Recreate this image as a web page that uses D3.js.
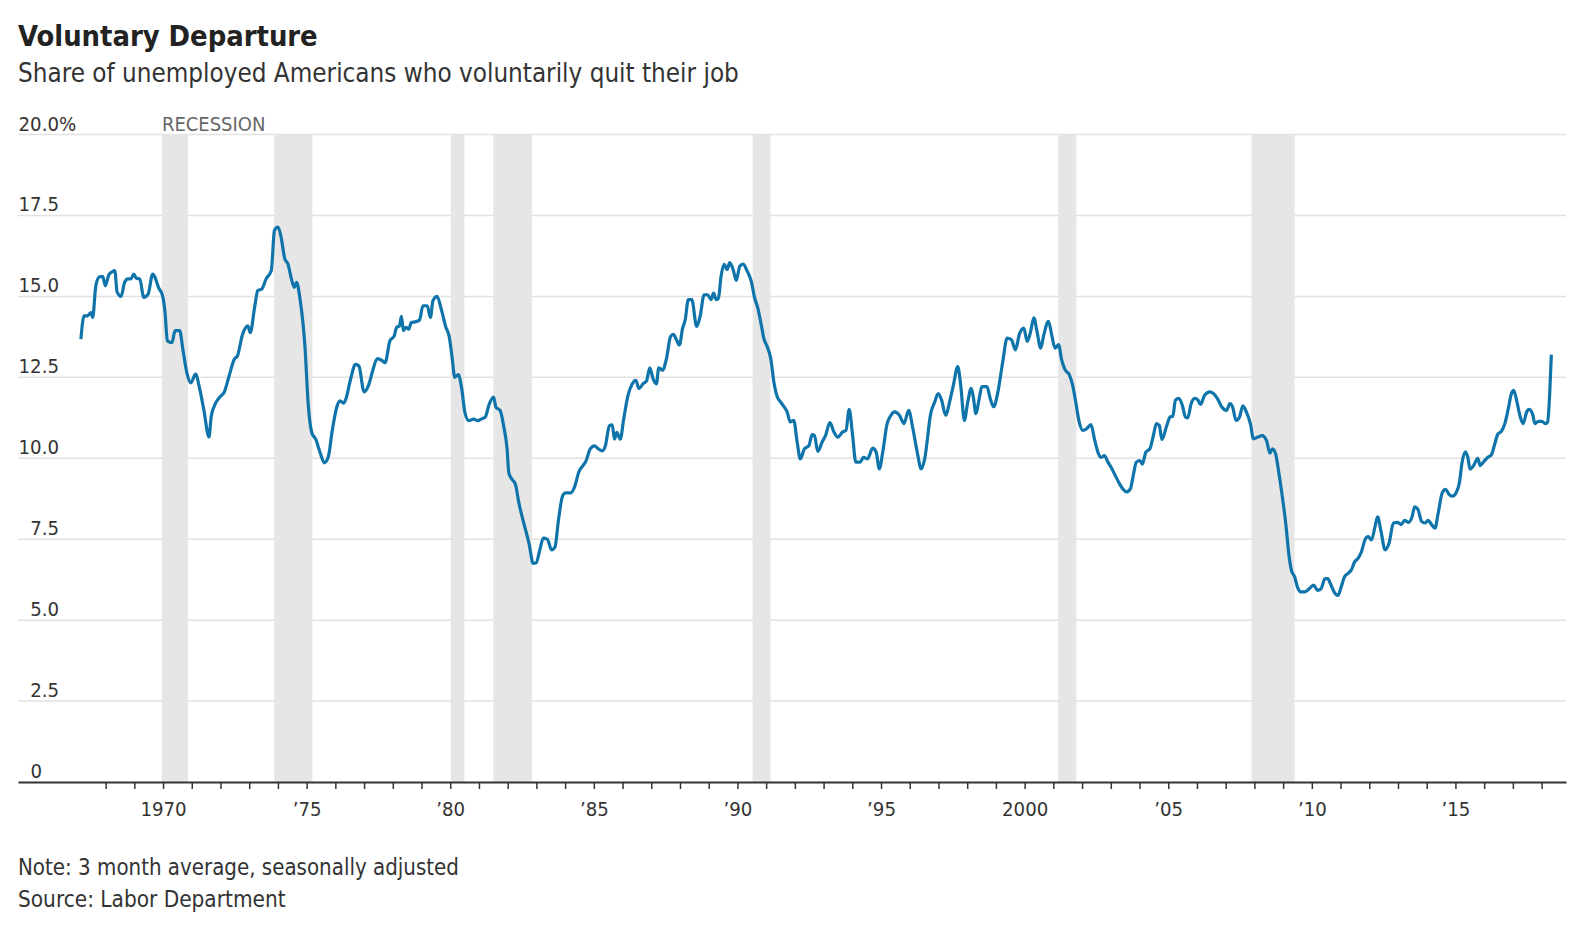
<!DOCTYPE html>
<html>
<head>
<meta charset="utf-8">
<script src="https://cdn.jsdelivr.net/npm/d3@7/dist/d3.min.js"></script>
<style>
    body { margin: 0; background: #fff; }
    svg text { font-family: "DejaVu Sans Condensed", "DejaVu Sans", sans-serif; font-stretch: condensed; fill: #333; }
</style>
</head>
<body>
<div id="graph"></div>
<script>
// Axis ticks and labels
const yTicks = [0, 2.5, 5, 7.5, 10, 12.5, 15, 17.5, 20];
const yTickLabels = ["0", "2.5", "5.0", "7.5", "10.0", "12.5", "15.0", "17.5", "20.0%"];
const xLabelYears = [1970, 1975, 1980, 1985, 1990, 1995, 2000, 2005, 2010, 2015];
const xLabels = ["1970", "\u201975", "\u201980", "\u201985", "\u201990", "\u201995", "2000", "\u201905", "\u201910", "\u201915"];
const xMinorFirst = 1968;
const xMinorLast = 2018;

// Recessions (decimal years)
const recessionStart = [1969.96, 1973.87, 1980.02, 1981.5, 1990.53, 2001.17, 2007.9];
const recessionEnd = [1970.87, 1975.2, 1980.49, 1982.85, 1991.15, 2001.8, 2009.4];

// Share of unemployed who quit their job, % [year, value]
const quits1960s = [
    [1967.14, 13.68], [1967.25, 14.4], [1967.37, 14.4], [1967.49, 14.5], [1967.55, 14.35], [1967.66, 15.33],
    [1967.78, 15.6], [1967.90, 15.62], [1967.99, 15.33], [1968.11, 15.66], [1968.23, 15.76], [1968.32, 15.8],
    [1968.40, 15.14], [1968.54, 15.0], [1968.66, 15.43], [1968.78, 15.54], [1968.88, 15.54], [1968.98, 15.69],
    [1969.07, 15.56], [1969.19, 15.54], [1969.33, 14.97], [1969.48, 15.07], [1969.64, 15.69], [1969.72, 15.59],
    [1969.84, 15.28], [1969.99, 15.0]
];
const quits1970s = [
    [1970.07, 14.5], [1970.15, 13.63], [1970.31, 13.57], [1970.42, 13.94], [1970.58, 13.94], [1970.69, 13.37],
    [1970.83, 12.64], [1970.97, 12.33], [1971.13, 12.6], [1971.28, 12.13], [1971.42, 11.5], [1971.60, 10.66],
    [1971.68, 11.3], [1971.83, 11.7], [1972.01, 11.92], [1972.12, 12.02], [1972.30, 12.54], [1972.48, 13.06],
    [1972.59, 13.16], [1972.77, 13.83], [1972.95, 14.09], [1973.04, 13.88], [1973.18, 14.61], [1973.30, 15.18],
    [1973.44, 15.23], [1973.59, 15.54], [1973.77, 15.8], [1973.88, 17.04], [1974.00, 17.14], [1974.10, 16.88],
    [1974.24, 16.16], [1974.35, 16.0], [1974.47, 15.54], [1974.57, 15.28], [1974.65, 15.43], [1974.77, 14.92],
    [1974.94, 13.47], [1975.06, 11.61], [1975.18, 10.79], [1975.32, 10.58], [1975.47, 10.17], [1975.62, 9.86],
    [1975.76, 10.06], [1975.88, 10.79], [1976.06, 11.61], [1976.17, 11.77], [1976.29, 11.7], [1976.37, 11.84],
    [1976.53, 12.44], [1976.70, 12.9], [1976.82, 12.85], [1977.00, 12.05], [1977.17, 12.29], [1977.29, 12.67],
    [1977.46, 13.08], [1977.64, 13.01], [1977.73, 12.95], [1977.90, 13.63], [1978.05, 13.78], [1978.13, 14.04],
    [1978.23, 14.09], [1978.30, 14.38], [1978.37, 13.94], [1978.46, 14.04], [1978.56, 13.99], [1978.64, 14.19],
    [1978.81, 14.22], [1978.93, 14.27], [1979.05, 14.71], [1979.20, 14.71], [1979.31, 14.35], [1979.40, 14.87],
    [1979.54, 15.0], [1979.69, 14.6], [1979.85, 14.04], [1979.96, 13.78]
];
const quits1980s = [
    [1980.06, 13.15], [1980.16, 12.5], [1980.28, 12.58], [1980.40, 12.15], [1980.51, 11.42], [1980.65, 11.16],
    [1980.81, 11.21], [1980.96, 11.16], [1981.08, 11.21], [1981.22, 11.27], [1981.36, 11.68], [1981.51, 11.89],
    [1981.59, 11.58], [1981.74, 11.47], [1981.86, 11.0], [1981.98, 10.28], [1982.04, 9.55], [1982.15, 9.35],
    [1982.27, 9.19], [1982.39, 8.62], [1982.56, 8.0], [1982.74, 7.38], [1982.89, 6.75], [1982.99, 6.77],
    [1983.12, 7.17], [1983.24, 7.53], [1983.38, 7.5], [1983.53, 7.17], [1983.65, 7.27], [1983.77, 8.1],
    [1983.91, 8.83], [1984.02, 8.93], [1984.20, 8.93], [1984.32, 9.09], [1984.49, 9.6], [1984.61, 9.76],
    [1984.73, 9.92], [1984.87, 10.28], [1985.02, 10.38], [1985.17, 10.28], [1985.29, 10.23], [1985.40, 10.38],
    [1985.54, 11.0], [1985.64, 11.03], [1985.72, 10.59], [1985.80, 10.8], [1985.92, 10.59], [1986.04, 11.21],
    [1986.19, 11.94], [1986.34, 12.3], [1986.46, 12.41], [1986.57, 12.15], [1986.71, 12.3], [1986.83, 12.38],
    [1986.95, 12.79], [1987.06, 12.46], [1987.18, 12.3], [1987.26, 12.79], [1987.39, 12.72], [1987.53, 13.08],
    [1987.67, 13.76], [1987.77, 13.83], [1987.88, 13.65], [1987.98, 13.5], [1988.09, 14.01], [1988.18, 14.27],
    [1988.29, 14.9], [1988.41, 14.9], [1988.58, 14.07], [1988.70, 14.38], [1988.84, 15.05], [1988.96, 15.05],
    [1989.08, 14.9], [1989.17, 15.1], [1989.26, 14.9], [1989.34, 14.95], [1989.43, 15.62], [1989.54, 15.99],
    [1989.64, 15.83], [1989.73, 16.04], [1989.85, 15.83], [1989.96, 15.49]
];
const quits1990s = [
    [1990.08, 15.93], [1990.20, 16.0], [1990.34, 15.78], [1990.48, 15.47], [1990.60, 14.95], [1990.71, 14.64],
    [1990.83, 14.12], [1990.92, 13.7], [1991.04, 13.44], [1991.16, 13.08], [1991.27, 12.35], [1991.39, 11.89],
    [1991.51, 11.73], [1991.63, 11.58], [1991.73, 11.43], [1991.84, 11.12], [1991.96, 11.17], [1992.08, 10.5],
    [1992.19, 9.98], [1992.33, 10.29], [1992.49, 10.39], [1992.60, 10.73], [1992.68, 10.7], [1992.80, 10.21],
    [1992.95, 10.5], [1993.07, 10.71], [1993.22, 11.1], [1993.36, 10.81], [1993.50, 10.65], [1993.66, 10.81],
    [1993.78, 10.86], [1993.89, 11.51], [1994.01, 10.71], [1994.12, 9.88], [1994.27, 9.88], [1994.39, 10.03],
    [1994.53, 9.98], [1994.71, 10.31], [1994.83, 10.19], [1994.94, 9.67], [1995.06, 10.19], [1995.20, 11.02],
    [1995.35, 11.33], [1995.47, 11.43], [1995.64, 11.33], [1995.80, 11.07], [1995.96, 11.48], [1996.11, 10.91],
    [1996.26, 10.19], [1996.40, 9.67], [1996.52, 9.98], [1996.73, 11.38], [1996.87, 11.74], [1996.99, 12.0],
    [1997.11, 11.79], [1997.25, 11.33], [1997.40, 11.79], [1997.52, 12.26], [1997.67, 12.83], [1997.78, 12.21],
    [1997.90, 11.17], [1998.02, 11.74], [1998.14, 12.16], [1998.22, 11.85], [1998.30, 11.38], [1998.42, 11.85],
    [1998.51, 12.21], [1998.69, 12.21], [1998.80, 11.85], [1998.92, 11.59], [1999.07, 12.05], [1999.24, 12.99],
    [1999.39, 13.71], [1999.54, 13.66], [1999.68, 13.35], [1999.82, 13.84], [1999.97, 14.02]
];
const quits2000s = [
    [2000.09, 13.61], [2000.21, 13.92], [2000.32, 14.34], [2000.44, 13.87], [2000.56, 13.4], [2000.67, 13.82],
    [2000.83, 14.23], [2000.94, 13.82], [2001.06, 13.4], [2001.18, 13.51], [2001.29, 13.04], [2001.41, 12.73],
    [2001.55, 12.59], [2001.67, 12.26], [2001.78, 11.74], [2001.90, 11.12], [2002.02, 10.86], [2002.16, 10.91],
    [2002.31, 11.04], [2002.43, 10.6], [2002.55, 10.19], [2002.66, 10.03], [2002.78, 10.08], [2002.90, 9.88],
    [2003.01, 9.72], [2003.16, 9.46], [2003.31, 9.2], [2003.42, 9.05], [2003.54, 8.96], [2003.68, 9.05],
    [2003.77, 9.41], [2003.89, 9.88], [2004.01, 9.93], [2004.10, 9.82], [2004.22, 10.19], [2004.36, 10.29],
    [2004.47, 10.65], [2004.59, 11.07], [2004.69, 11.01], [2004.78, 10.58], [2004.95, 11.01], [2005.06, 11.27],
    [2005.16, 11.3], [2005.25, 11.79], [2005.37, 11.85], [2005.49, 11.64], [2005.60, 11.27], [2005.68, 11.25],
    [2005.80, 11.69], [2005.92, 11.85], [2006.03, 11.8], [2006.12, 11.66], [2006.27, 11.95], [2006.45, 12.05],
    [2006.57, 12.0], [2006.71, 11.85], [2006.86, 11.59], [2007.03, 11.48], [2007.15, 11.69], [2007.24, 11.59],
    [2007.36, 11.17], [2007.48, 11.27], [2007.60, 11.62], [2007.72, 11.43], [2007.86, 11.07], [2007.97, 10.6],
    [2008.11, 10.65], [2008.27, 10.7], [2008.42, 10.55], [2008.54, 10.16], [2008.63, 10.29], [2008.74, 10.13],
    [2008.85, 9.56], [2008.97, 8.83], [2009.09, 8.0], [2009.21, 6.96], [2009.29, 6.54], [2009.40, 6.34],
    [2009.50, 6.02], [2009.62, 5.87], [2009.76, 5.87], [2009.91, 5.97]
];
const quits2010s = [
    [2010.06, 6.08], [2010.20, 5.92], [2010.32, 5.97], [2010.46, 6.28], [2010.55, 6.28], [2010.67, 6.08],
    [2010.81, 5.82], [2010.91, 5.76], [2011.02, 6.02], [2011.14, 6.34], [2011.26, 6.44], [2011.38, 6.56],
    [2011.49, 6.8], [2011.61, 6.91], [2011.73, 7.12], [2011.85, 7.48], [2011.96, 7.58], [2012.08, 7.48],
    [2012.20, 7.89], [2012.29, 8.19], [2012.41, 7.74], [2012.55, 7.17], [2012.69, 7.38], [2012.84, 8.0],
    [2012.99, 8.02], [2013.11, 7.95], [2013.23, 8.08], [2013.37, 8.02], [2013.49, 8.19], [2013.58, 8.5],
    [2013.70, 8.41], [2013.82, 8.05], [2013.94, 8.0], [2014.05, 8.08], [2014.17, 7.95], [2014.29, 7.84],
    [2014.40, 8.31], [2014.54, 8.93], [2014.66, 9.04], [2014.78, 8.88], [2014.90, 8.83], [2015.02, 8.93],
    [2015.14, 9.25], [2015.23, 9.87], [2015.35, 10.2], [2015.43, 10.03], [2015.51, 9.66], [2015.63, 9.77],
    [2015.78, 10.0], [2015.86, 9.77], [2015.98, 9.89], [2016.13, 10.03], [2016.25, 10.1], [2016.37, 10.44],
    [2016.48, 10.75], [2016.60, 10.83], [2016.72, 11.07], [2016.84, 11.53], [2016.95, 12.0], [2017.03, 12.1],
    [2017.13, 11.79], [2017.25, 11.3], [2017.36, 11.07], [2017.48, 11.43], [2017.57, 11.51], [2017.69, 11.35],
    [2017.77, 11.07], [2017.89, 11.14], [2018.01, 11.14], [2018.13, 11.07], [2018.21, 11.12], [2018.28, 11.95],
    [2018.34, 13.2]
];

const quitData = [].concat(quits1960s, quits1970s, quits1980s, quits1990s, quits2000s, quits2010s)
    .map(d => ({ year: d[0], value: d[1] }));

const CHART = {
    width: 1586,
    height: 930,
    left: 18,
    right: 1566,
    top: 134.5,
    bottom: 782,
    xDomain: [1964.95, 2018.85],
    font: {
        title: 28.8,
        subtitle: 25.8,
        tick: 20.2,
        label: 20,
        note: 22.1,
        source: 22.4
    },
    colors: {
        line: "#0f74aa",
        recession: "#e6e6e6",
        grid: "#e2e2e2",
        axis: "#333",
        muted: "#666"
    }
};

const svg = d3.select("#graph")
    .append("svg")
    .attr("width", CHART.width)
    .attr("height", CHART.height);

// Scales
const xScale = d3.scaleLinear()
    .domain(CHART.xDomain)
    .range([CHART.left, CHART.right]);

const yScale = d3.scaleLinear()
    .domain([0, 20])
    .range([CHART.bottom, CHART.top]);

// Title block
svg.append("text")
    .attr("x", CHART.left)
    .attr("y", 46)
    .attr("font-size", CHART.font.title)
    .attr("font-weight", "bold")
    .style("fill", "#222")
    .text("Voluntary Departure");

svg.append("text")
    .attr("x", CHART.left)
    .attr("y", 82)
    .attr("font-size", CHART.font.subtitle)
    .text("Share of unemployed Americans who voluntarily quit their job");

// Gridlines (the zero line is the axis)
svg.append("g")
    .selectAll("line")
    .data(yTicks.filter(d => d > 0))
    .join("line")
    .attr("x1", CHART.left)
    .attr("x2", CHART.right)
    .attr("y1", d => yScale(d))
    .attr("y2", d => yScale(d))
    .attr("stroke", CHART.colors.grid)
    .attr("stroke-width", 1.5);

// Recession bands sit on top of the gridlines
svg.append("g")
    .selectAll("rect")
    .data(recessionStart)
    .join("rect")
    .attr("x", d => xScale(d))
    .attr("width", (d, i) => xScale(recessionEnd[i]) - xScale(d))
    .attr("y", yScale(20))
    .attr("height", yScale(0) - yScale(20))
    .attr("fill", CHART.colors.recession);

svg.append("text")
    .attr("x", xScale(recessionStart[0]))
    .attr("y", yScale(20) - 4)
    .attr("font-size", CHART.font.label)
    .style("fill", CHART.colors.muted)
    .text("RECESSION");

// Y labels sit above their gridline, digits right-aligned
const labelRight = 59;
svg.append("g")
    .selectAll("text")
    .data(yTicks)
    .join("text")
    .attr("x", d => d === 0 ? 30.5 : labelRight)
    .attr("y", d => yScale(d) - 4)
    .attr("text-anchor", d => d === 0 ? "start" : "end")
    .attr("font-size", CHART.font.tick)
    .text((d, i) => yTickLabels[i].replace("%", ""));

svg.append("text")
    .attr("x", labelRight)
    .attr("y", yScale(20) - 4)
    .attr("font-size", CHART.font.tick)
    .text("%");

// X axis
const labelFor = new Map(xLabelYears.map((y, i) => [y, xLabels[i]]));
const xAxis = svg.append("g")
    .attr("transform", `translate(0, ${CHART.bottom})`)
    .call(d3.axisBottom(xScale)
        .tickValues(d3.range(xMinorFirst, xMinorLast + 1))
        .tickSize(7)
        .tickSizeOuter(0)
        .tickPadding(13)
        .tickFormat(d => labelFor.get(d) || ""));

xAxis.attr("font-family", null).attr("font-size", null);
xAxis.select(".domain")
    .attr("stroke", CHART.colors.axis)
    .attr("stroke-width", 2);
xAxis.selectAll(".tick line")
    .attr("stroke", CHART.colors.axis)
    .attr("stroke-width", 1.5);
xAxis.selectAll(".tick text")
    .attr("font-size", CHART.font.tick)
    .style("fill", "#333");

// The quit share line
const quitLine = d3.line()
    .x(d => xScale(d.year))
    .y(d => yScale(d.value))
    .curve(d3.curveMonotoneX);

svg.append("path")
    .datum(quitData)
    .attr("d", quitLine)
    .attr("fill", "none")
    .attr("stroke", CHART.colors.line)
    .attr("stroke-width", 3.2)
    .attr("stroke-linejoin", "round");

// Footnotes
svg.append("text")
    .attr("x", CHART.left)
    .attr("y", 875)
    .attr("font-size", CHART.font.note)
    .text("Note: 3 month average, seasonally adjusted");

svg.append("text")
    .attr("x", CHART.left)
    .attr("y", 907)
    .attr("font-size", CHART.font.source)
    .text("Source: Labor Department");
</script>
</body>
</html>
